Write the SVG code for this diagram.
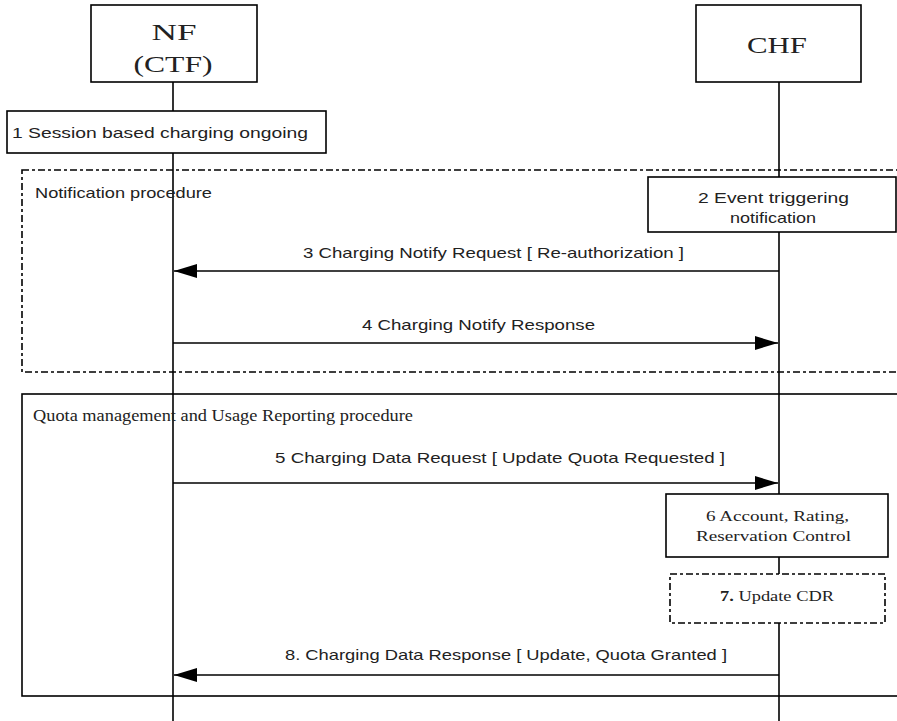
<svg xmlns="http://www.w3.org/2000/svg" width="897" height="721" viewBox="0 0 897 721">
<defs>
<style>
.box{fill:#fff;stroke:#000;stroke-width:1.6}
.dbox{fill:none;stroke:#000;stroke-width:1.6;stroke-dasharray:7 3 3 3}
.dboxf{fill:#fff;stroke:#000;stroke-width:1.6;stroke-dasharray:7 3 3 3}
.life{stroke:#000;stroke-width:1.6}
.msg{stroke:#000;stroke-width:1.6;fill:none}
.sans{font-family:"Liberation Sans",Arial,sans-serif;font-size:15px;fill:#222}
.serif{font-family:"Liberation Serif","Times New Roman",serif;fill:#222}
</style>
<marker id="ah" markerWidth="23" markerHeight="14" refX="23" refY="7" orient="auto" markerUnits="userSpaceOnUse">
<path d="M0,0 L23,7 L0,14 Z" fill="#000"/>
</marker>
</defs>
<rect width="897" height="721" fill="#fff"/>

<g id="lifelines">
<line class="life" x1="173" y1="82" x2="173" y2="721"/>
<line class="life" x1="779" y1="82" x2="779" y2="721"/>
</g>

<g id="notification-frame">
<rect class="dbox" x="22" y="170" width="880" height="202"/>
<text class="sans" x="35" y="198" font-size="14" textLength="177" lengthAdjust="spacingAndGlyphs">Notification procedure</text>
</g>

<g id="quota-frame">
<rect x="22" y="394" width="880" height="302" fill="none" stroke="#000" stroke-width="1.6"/>
<text class="serif" x="33" y="421" font-size="16" textLength="380" lengthAdjust="spacingAndGlyphs">Quota management and Usage Reporting procedure</text>
</g>

<g id="nf">
<rect class="box" x="91" y="5" width="166" height="77"/>
<text class="serif" x="174" y="40" font-size="23" text-anchor="middle" textLength="45" lengthAdjust="spacingAndGlyphs">NF</text>
<text class="serif" x="173" y="72" font-size="23" text-anchor="middle" textLength="79" lengthAdjust="spacingAndGlyphs">(CTF)</text>
</g>

<g id="chf">
<rect class="box" x="696" y="5" width="165" height="77"/>
<text class="serif" x="777" y="53" font-size="23" text-anchor="middle" textLength="60" lengthAdjust="spacingAndGlyphs">CHF</text>
</g>

<g id="step1">
<rect class="box" x="7" y="111" width="319" height="42"/>
<text class="sans" x="12" y="138" textLength="296" lengthAdjust="spacingAndGlyphs">1  Session based charging ongoing</text>
</g>

<g id="step2">
<rect class="box" x="648" y="177" width="248" height="55"/>
<text class="sans" x="698" y="203" textLength="151" lengthAdjust="spacingAndGlyphs">2  Event triggering</text>
<text class="sans" x="730" y="223" textLength="86" lengthAdjust="spacingAndGlyphs">notification</text>
</g>

<g id="step6">
<rect class="box" x="666" y="494" width="222" height="63"/>
<text class="serif" x="706" y="521" font-size="15" textLength="143" lengthAdjust="spacingAndGlyphs">6  Account, Rating,</text>
<text class="serif" x="696" y="541" font-size="15" textLength="155" lengthAdjust="spacingAndGlyphs">Reservation Control</text>
</g>

<g id="step7">
<rect class="dboxf" x="670" y="574" width="215" height="49"/>
<text class="serif" x="720" y="601" font-size="15" textLength="114" lengthAdjust="spacingAndGlyphs"><tspan font-weight="bold">7.</tspan> Update CDR</text>
</g>

<g id="connectors">
<line class="msg" x1="779" y1="271" x2="174" y2="271" marker-end="url(#ah)"/>
<text class="sans" x="303" y="258" textLength="381" lengthAdjust="spacingAndGlyphs">3  Charging Notify Request [ Re-authorization ]</text>
<line class="msg" x1="173" y1="343" x2="778" y2="343" marker-end="url(#ah)"/>
<text class="sans" x="362" y="330" textLength="233" lengthAdjust="spacingAndGlyphs">4  Charging Notify Response</text>
<line class="msg" x1="173" y1="483" x2="778" y2="483" marker-end="url(#ah)"/>
<text class="sans" x="275" y="463" textLength="450" lengthAdjust="spacingAndGlyphs">5  Charging Data Request [ Update  Quota Requested ]</text>
<line class="msg" x1="779" y1="675" x2="174" y2="675" marker-end="url(#ah)"/>
<text class="sans" x="285" y="660" textLength="442" lengthAdjust="spacingAndGlyphs">8. Charging Data Response [ Update, Quota Granted ]</text>
</g>
</svg>
